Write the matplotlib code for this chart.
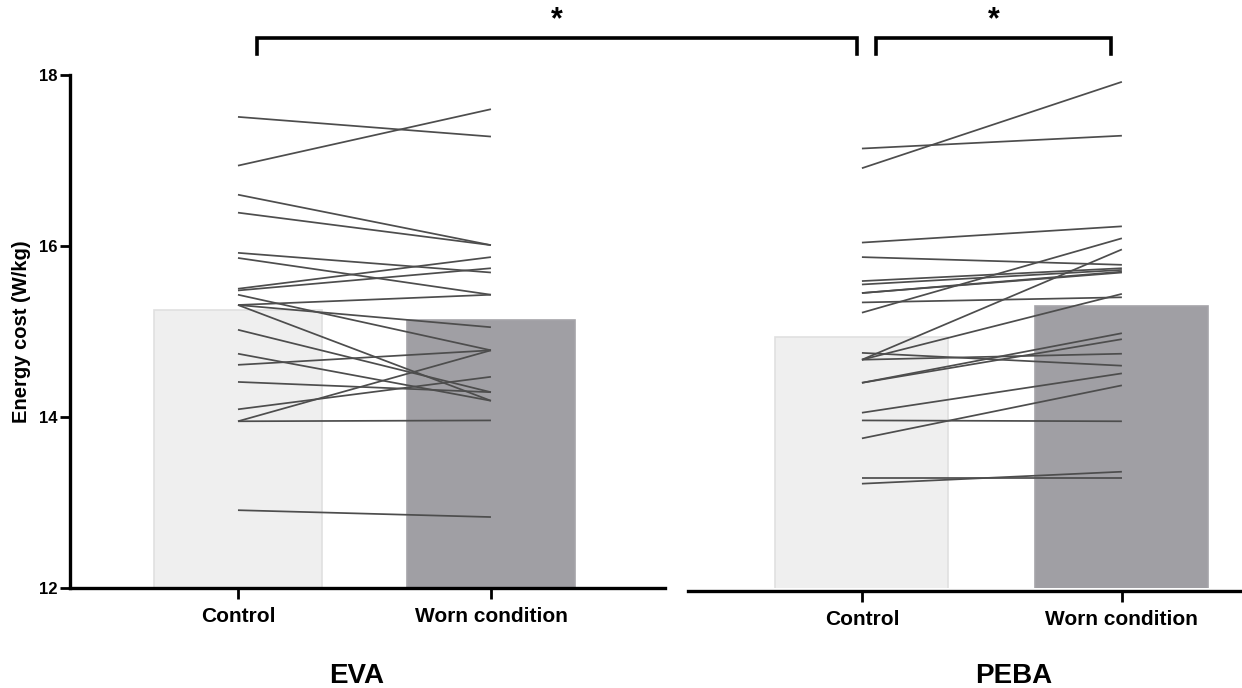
import numpy as np
import matplotlib.pyplot as plt
from matplotlib.lines import Line2D

plt.rcParams['font.family'] = ['Liberation Sans', 'DejaVu Sans']

# paired values (W/kg), one entry per participant
eva_control = [17.51, 16.94, 16.60, 16.39, 15.92, 15.86, 15.50, 15.48, 15.43, 15.31,
               15.31, 15.31, 15.02, 14.74, 14.61, 14.41, 14.09, 13.95, 13.95, 12.91]
eva_worn = [17.28, 17.60, 16.01, 16.01, 15.69, 15.43, 15.87, 15.74, 14.78, 15.43,
            15.05, 14.19, 14.29, 14.19, 14.78, 14.29, 14.47, 14.78, 13.96, 12.83]
peba_control = [17.14, 16.91, 16.04, 15.87, 15.59, 15.55, 15.45, 15.34, 15.22, 14.75,
                14.67, 14.67, 14.67, 14.40, 14.40, 14.05, 13.96, 13.75, 13.29, 13.22, 15.45]
peba_worn = [17.29, 17.92, 16.23, 15.78, 15.74, 15.72, 15.69, 15.40, 16.09, 14.60,
             14.74, 15.96, 15.44, 14.98, 14.91, 14.51, 13.95, 14.37, 13.29, 13.36, 15.70]

eva_means = [15.25, 15.13]
peba_means = [14.94, 15.30]

conditions = ['Control', 'Worn condition']
groups = ['EVA', 'PEBA']
yticks = [12, 14, 16, 18]

bar_colors = ['#efefef', '#a09fa4']
edge_colors = ['#e0e0e0', '#a5a4a9']
line_color = '#4d4d4d'

fig = plt.figure(figsize=(12.42, 6.88), dpi=100)
W, H = 1242.0, 688.0
bottom = 1 - 588 / H
height = (588 - 75) / H
ax1 = fig.add_axes([70 / W, bottom, (665 - 70) / W, height])
ax2 = fig.add_axes([688 / W, bottom, (1242 - 688) / W, height])

pos = [0, 1]
panels = [(ax1, eva_control, eva_worn, eva_means, (-0.664, 1.688), 0),
          (ax2, peba_control, peba_worn, peba_means, (-0.669, 1.462), 2)]

for ax, ctrl, worn, means, xl, shift in panels:
    ax.spines['bottom'].set_position(('outward', shift))
    ax.bar(pos, means, width=0.665, color=bar_colors, edgecolor=edge_colors,
           linewidth=1.2, zorder=1)
    for c, w in zip(ctrl, worn):
        ax.plot(pos, [c, w], color=line_color, lw=1.25, zorder=2, solid_capstyle='butt')
    ax.set_xlim(*xl)
    ax.set_ylim(12, 18)
    ax.set_xticks(pos)
    ax.set_xticklabels(conditions, fontsize=15, fontweight='bold')
    ax.tick_params(axis='x', direction='out', length=8, width=2, pad=6)
    for s in ['top', 'right', 'left']:
        ax.spines[s].set_visible(False)
    ax.spines['bottom'].set_linewidth(2.4)
    ax.patch.set_alpha(0)

ax1.spines['left'].set_visible(True)
ax1.spines['left'].set_linewidth(2.4)
ax1.set_yticks(yticks)
ax1.set_yticklabels([str(t) for t in yticks], fontsize=12, fontweight='bold')
ax1.tick_params(axis='y', direction='out', length=7, width=2, pad=2)
ax1.set_ylabel('Energy cost (W/kg)', fontsize=14.5, fontweight='bold', labelpad=6)
ax2.set_yticks([])

# group labels under each panel
ax1.text(0.47, -0.171, groups[0], transform=ax1.get_xaxis_transform(),
         ha='center', va='center', fontsize=20, fontweight='bold')
ax2.text(0.585, -0.171, groups[1], transform=ax2.get_xaxis_transform(),
         ha='center', va='center', fontsize=20, fontweight='bold')

# significance brackets
inv = fig.transFigure.inverted()


def fx(ax, x):
    return inv.transform(ax.transData.transform((x, 12)))[0]


def fy(y):
    return inv.transform(ax1.transData.transform((0, y)))[1]


def bracket(x0, x1):
    top, low = fy(18.43), fy(18.25)
    fig.add_artist(Line2D([x0, x0, x1, x1], [low, top, top, low], color='black',
                          lw=2.6, solid_joinstyle='miter', transform=fig.transFigure))
    fig.text((x0 + x1) / 2, fy(18.64), '*', ha='center', va='center',
             fontsize=22, fontweight='bold')


bracket(fx(ax1, 0.075), fx(ax2, -0.02))
bracket(fx(ax2, 0.054), fx(ax2, -0.042 + 1))

fig.savefig('out.png', dpi=100)
